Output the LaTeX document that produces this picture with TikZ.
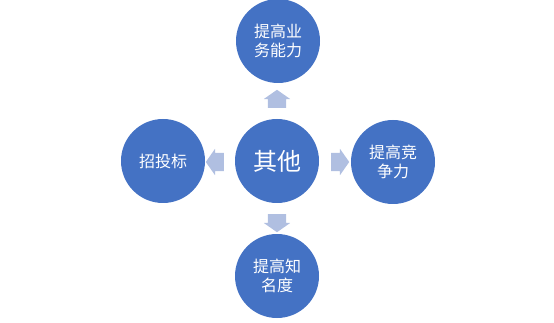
\documentclass[tikz,border=0pt]{standalone}
\usepackage{fontspec}
\setmainfont{Noto Sans CJK SC}
\usetikzlibrary{shapes.arrows}
\definecolor{cA}{HTML}{4472C4}
\definecolor{cB}{HTML}{B0BFE1}
\tikzset{
  ball/.style={circle,fill=cA,minimum size=84pt,inner sep=0pt,align=center,
    text=white,font=\fontsize{16}{19.5}\selectfont},
  hub/.style={ball,font=\fontsize{24}{28}\selectfont},
  blk/.style={single arrow,fill=cB,draw=none,inner sep=0pt,
    minimum height=18pt,single arrow head extend=4pt,single arrow tip angle=110},
}
\newcommand{\shaft}{\rule{0pt}{18pt}}
\begin{document}
\begin{tikzpicture}[x=1pt,y=-1pt]
  \useasboundingbox (0,0) rectangle (554,323);
  \node[hub] (mid) at (277,161) {其他};
  \node[ball] (up) at (278,41) {提高业\\务能力};
  \node[ball] (lf) at (163,161) {招投标};
  \node[ball] (rt) at (393,162) {提高竞\\争力};
  \node[ball] (dn) at (277,276) {提高知\\名度};
  % block arrows
  \node[blk,rotate=90] (aup) at (277,102) {\shaft};
  \node[blk,rotate=180] (alf) at (218,162) {\shaft};
  \node[blk] (art) at (337,162) {\shaft};
  \node[blk,rotate=-90] (adn) at (277,220) {\shaft};
\end{tikzpicture}
\end{document}
